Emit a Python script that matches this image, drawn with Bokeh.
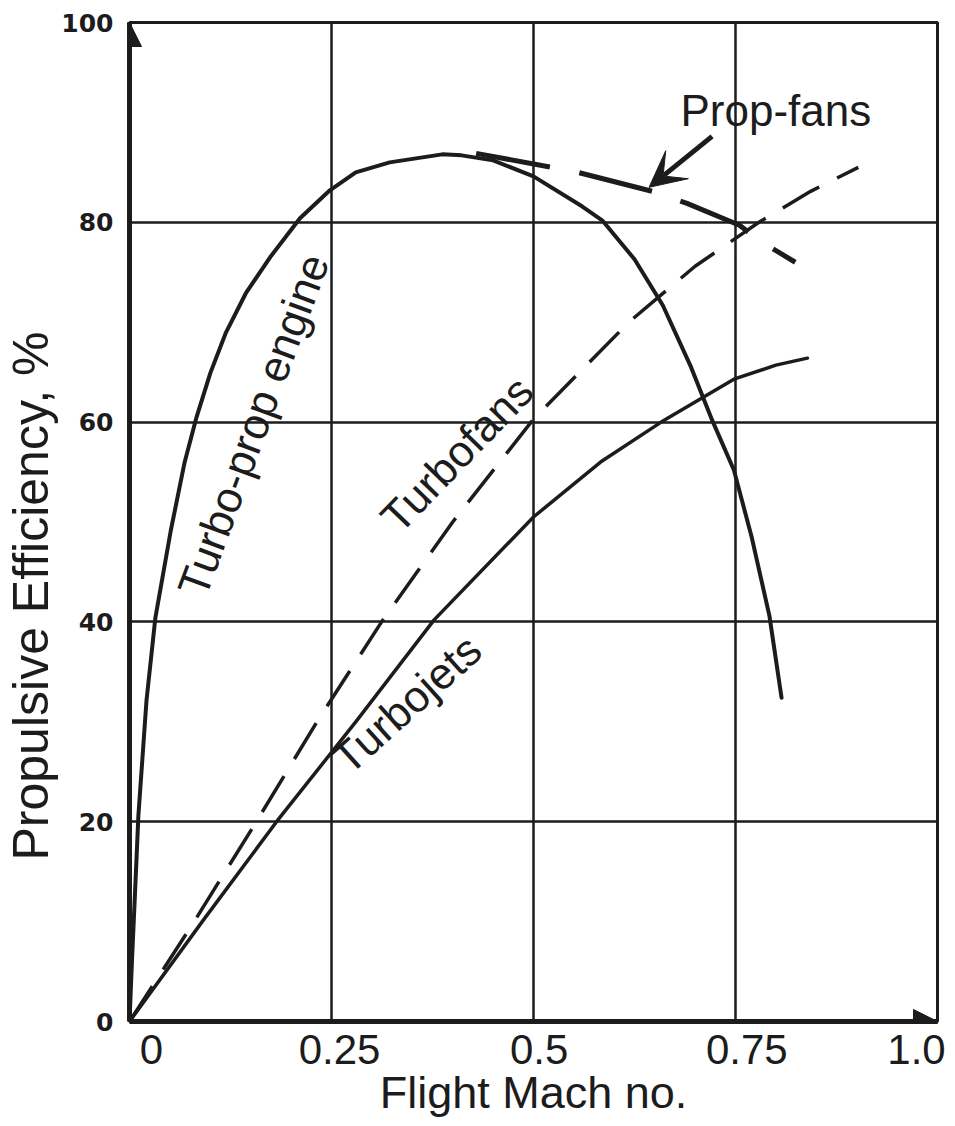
from bokeh.plotting import figure
from bokeh.models import (Range1d, FixedTicker, Arrow, NormalHead, VeeHead, Label, Title)
from bokeh.embed import file_html
from bokeh.resources import INLINE

# ---------------- data ----------------
turboprop_mach = [0.0, 0.003, 0.0064, 0.011, 0.021, 0.032, 0.051, 0.068, 0.083, 0.100,
                  0.119, 0.144, 0.174, 0.211, 0.248, 0.280, 0.322, 0.387, 0.411, 0.45,
                  0.50, 0.56, 0.585, 0.625, 0.66, 0.695, 0.72, 0.748, 0.77, 0.792, 0.807]
turboprop_eff = [0.0, 6.0, 12.1, 20.6, 32.1, 40.4, 49.1, 55.9, 60.5, 64.9,
                 68.9, 72.9, 76.5, 80.4, 83.2, 85.0, 86.0, 86.8, 86.7, 86.2,
                 84.6, 81.6, 80.2, 76.3, 71.7, 65.5, 60.4, 55.2, 48.5, 40.6, 32.4]

turbofan_mach = [0.0, 0.08, 0.157, 0.232, 0.312, 0.40, 0.50, 0.618, 0.70, 0.779, 0.843, 0.902]
turbofan_eff = [0.0, 10.0, 20.0, 30.0, 40.0, 50.0, 60.3, 70.0, 75.6, 80.0, 83.1, 85.5]

turbojet_mach = [0.0, 0.09, 0.182, 0.28, 0.377, 0.50, 0.583, 0.658, 0.748, 0.80, 0.839]
turbojet_eff = [0.0, 10.0, 20.0, 30.0, 40.2, 50.5, 56.0, 60.0, 64.3, 65.7, 66.4]

propfan_mach = [0.429, 0.55, 0.647, 0.69, 0.755, 0.779, 0.824]
propfan_eff = [86.9, 85.1, 83.1, 81.9, 79.7, 78.2, 76.0]

x_ticks = [0.0, 0.25, 0.5, 0.75, 1.0]
x_tick_labels = ["0", "0.25", "0.5", "0.75", "1.0"]
y_ticks = [0, 20, 40, 60, 80, 100]

curve_labels = ["Turbo-prop engine", "Turbofans", "Turbojets", "Prop-fans"]
curve_label_x = [0.153, 0.405, 0.343, 0.80]
curve_label_y = [59.7, 56.8, 31.8, 91.2]
curve_label_angle = [69.8, 46.0, 42.0, 0.0]

propfan_arrow = dict(x_start=0.721, y_start=88.6, x_end=0.643, y_end=83.5)

x_title = "Flight Mach no."
y_title = "Propulsive Efficiency, %"

# ---------------- styling ----------------
INK = "#1c1c1c"
FONT = "Liberation Sans"
# small sideways nudges of the x tick labels (in Mach units), as typeset in the original
x_label_nudge = [0.027, 0.010, 0.007, 0.014, -0.026]

p = figure(width=955, height=1126, output_backend="svg", toolbar_location=None,
           x_range=Range1d(0, 1.0), y_range=Range1d(0, 100),
           min_border_left=128, min_border_right=18, min_border_top=22,
           min_border_bottom=105, background_fill_color="white",
           border_fill_color="white")

p.outline_line_color = INK
p.outline_line_width = 3

# grid
p.xgrid.ticker = FixedTicker(ticks=[t for t in x_ticks if 0 < t < 1.0])
p.ygrid.ticker = FixedTicker(ticks=[t for t in y_ticks if 0 < t < 100])
for g in (p.xgrid, p.ygrid):
    g.grid_line_color = INK
    g.grid_line_width = 2.5
    g.grid_line_alpha = 1.0

# y axis
p.yaxis.ticker = FixedTicker(ticks=y_ticks)
p.yaxis.axis_line_width = 5
p.yaxis.axis_line_color = INK
p.yaxis.major_tick_line_color = None
p.yaxis.minor_tick_line_color = None
p.yaxis.major_label_text_font = "DejaVu Sans"
p.yaxis.major_label_text_font_style = "bold"
p.yaxis.major_label_text_font_size = "25px"
p.yaxis.major_label_text_color = INK
p.yaxis.major_label_standoff = 10

# x axis
label_pos = [round(t + n, 4) for t, n in zip(x_ticks, x_label_nudge)]
p.xaxis.ticker = FixedTicker(ticks=label_pos)
p.xaxis.major_label_overrides = {pos: lab for pos, lab in zip(label_pos, x_tick_labels)}
p.xaxis.axis_line_width = 5
p.xaxis.axis_line_color = INK
p.xaxis.major_tick_line_color = None
p.xaxis.minor_tick_line_color = None
p.xaxis.major_label_text_font = FONT
p.xaxis.major_label_text_font_size = "42px"
p.xaxis.major_label_text_color = INK
p.xaxis.major_label_standoff = 7
p.xaxis.axis_label = x_title
p.xaxis.axis_label_text_font = FONT
p.xaxis.axis_label_text_font_style = "normal"
p.xaxis.axis_label_text_font_size = "45px"
p.xaxis.axis_label_text_color = INK
p.xaxis.axis_label_standoff = 0

# y title (a side title, anchored low like the original)
p.add_layout(Title(text=y_title, align="left", offset=161, standoff=0,
                   text_font=FONT, text_font_style="normal", text_font_size="50px",
                   text_color=INK), "left")

# axis arrow heads
p.add_layout(Arrow(x_start=0, y_start=96, x_end=0, y_end=100, line_width=5, line_color=INK,
                   end=NormalHead(size=24, fill_color=INK, line_color=INK)))
p.add_layout(Arrow(x_start=0.96, y_start=0, x_end=1.0, y_end=0, line_width=5, line_color=INK,
                   end=NormalHead(size=24, fill_color=INK, line_color=INK)))

# curves
p.line(turboprop_mach, turboprop_eff, line_color=INK, line_width=4, line_cap="round",
       line_join="round")
p.line(turbojet_mach, turbojet_eff, line_color=INK, line_width=3.5, line_cap="round",
       line_join="round")
p.line(turbofan_mach, turbofan_eff, line_color=INK, line_width=3.5, line_dash="42 20",
       line_join="round")
p.line(propfan_mach, propfan_eff, line_color=INK, line_width=5, line_dash="75 30",
       line_join="round")

# arrow to the prop-fan curve
p.add_layout(Arrow(line_width=5, line_color=INK,
                   end=VeeHead(size=36, fill_color=INK, line_color=INK),
                   **propfan_arrow))

# curve labels
for txt, lx, ly, ang in zip(curve_labels, curve_label_x, curve_label_y, curve_label_angle):
    p.add_layout(Label(x=lx, y=ly, text=txt, angle=ang, angle_units="deg",
                       text_align="center", text_baseline="middle",
                       text_font=FONT, text_font_size="44px", text_color=INK))

open("out.html", "w").write(file_html(p, INLINE))
